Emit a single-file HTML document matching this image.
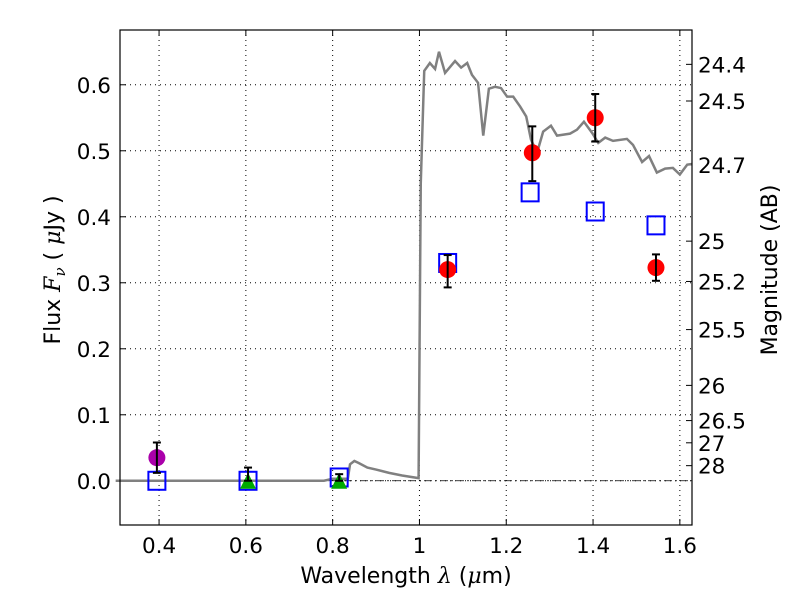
<!DOCTYPE html>
<html><head><meta charset="utf-8"><style>
body{margin:0;background:#fff}
svg{display:block;font-family:"DejaVu Sans","Liberation Sans",sans-serif}
</style></head><body>
<svg id="chart" width="800" height="600" viewBox="0 0 800 600"></svg>
<script>
const specWave=[0.30,0.78,0.80,0.835,0.84,0.85,0.86,0.88,0.90,0.93,0.96,0.998,1.003,1.011,1.024,1.036,1.045,1.059,1.082,1.096,1.110,1.121,1.135,1.147,1.160,1.174,1.188,1.202,1.216,1.232,1.246,1.257,1.271,1.285,1.303,1.317,1.347,1.363,1.379,1.398,1.412,1.428,1.446,1.478,1.492,1.513,1.529,1.547,1.566,1.584,1.600,1.617,1.628];
const specFlux=[0,0,0.003,0.003,0.025,0.03,0.027,0.02,0.017,0.012,0.008,0.004,0.45,0.621,0.633,0.624,0.65,0.618,0.636,0.626,0.633,0.615,0.603,0.523,0.594,0.597,0.595,0.582,0.582,0.567,0.552,0.517,0.497,0.529,0.538,0.523,0.526,0.532,0.544,0.527,0.512,0.520,0.515,0.518,0.509,0.483,0.492,0.467,0.473,0.474,0.464,0.479,0.48];
const modelWave=[0.395,0.605,0.815,1.065,1.255,1.405,1.545];
const modelFlux=[0,0,0.005,0.33,0.437,0.408,0.387];
const redWave=[1.065,1.26,1.405,1.545];
const redFlux=[0.32,0.497,0.55,0.323];
const redErrLo=[0.027,0.043,0.036,0.02];
const redErrHi=[0.022,0.04,0.036,0.02];
const purpleWave=[0.395];
const purpleFlux=[0.035];
const purpleErrLo=[0.023];
const purpleErrHi=[0.023];
const greenWave=[0.605,0.815];
const greenFlux=[0,0];
const greenErrHi=[0.02,0.01];
const xTicks=[0.4,0.6,0.8,1.0,1.2,1.4,1.6];
const xTickLabels=["0.4","0.6","0.8","1","1.2","1.4","1.6"];
const yTicks=[0,0.1,0.2,0.3,0.4,0.5,0.6];
const yTickLabels=["0.0","0.1","0.2","0.3","0.4","0.5","0.6"];
const magTicks=[24.4,24.5,24.7,25,25.2,25.5,26,26.5,27,28];

const L=120,R=692,T=30,B=525,X0=0.31,X1=1.628,Y0=-0.067,Y1=0.683;
const sx=v=>L+(v-X0)/(X1-X0)*(R-L);
const sy=v=>B-(v-Y0)/(Y1-Y0)*(B-T);
const svg=document.getElementById('chart');
const NS='http://www.w3.org/2000/svg';
function mk(tag,attrs,parent){const e=document.createElementNS(NS,tag);for(const k in attrs)e.setAttribute(k,attrs[k]);(parent||svg).appendChild(e);return e;}

xTicks.forEach((t,i)=>{
 const g=mk('line',{x1:sx(t),x2:sx(t),y1:T,y2:B,stroke:'#000','stroke-width':1,'stroke-dasharray':'1,4'});
 
 mk('line',{x1:sx(t),x2:sx(t),y1:B,y2:B-6,stroke:'#000'});mk('line',{x1:sx(t),x2:sx(t),y1:T,y2:T+6,stroke:'#000'});
 const tx=mk('text',{x:sx(t),y:B+28,'font-size':21.5,'text-anchor':'middle'});tx.textContent=xTickLabels[i];
 
});
yTicks.forEach((t,i)=>{
 const g=mk('line',{x1:L,x2:R,y1:sy(t),y2:sy(t),stroke:'#000','stroke-width':1,'stroke-dasharray':'1,4'});
 
 mk('line',{x1:L,x2:L+6,y1:sy(t),y2:sy(t),stroke:'#000'});
 const tx=mk('text',{x:L-9,y:sy(t)+8,'font-size':21.5,'text-anchor':'end'});tx.textContent=yTickLabels[i];
 
});
magTicks.forEach(m=>{
 const f=Math.pow(10,(23.9-m)/2.5);const y=sy(f);
 mk('line',{x1:R,x2:R-6,y1:y,y2:y,stroke:'#000'});
 const tx=mk('text',{x:R+6,y:y+8,'font-size':21.5});tx.textContent=String(m);
 
});
const z=mk('line',{x1:L,x2:R,y1:sy(0),y2:sy(0),stroke:'#000','stroke-width':0.8,'stroke-dasharray':'8,3,2,3'});

const sp=mk('polyline',{points:specWave.map((w,i)=>sx(w)+','+sy(specFlux[i])).join(' '),fill:'none',stroke:'#808080','stroke-width':2.5});

modelWave.forEach((w,i)=>{
 const r=mk('rect',{x:sx(w)-8.5,y:sy(modelFlux[i])-9,width:17,height:18,fill:'none',stroke:'#0000ff','stroke-width':2});
 
});
function err(x,lo,hi){mk('line',{x1:x,x2:x,y1:sy(lo),y2:sy(hi),stroke:'#000','stroke-width':2});
 [lo,hi].forEach(v=>mk('line',{x1:x-4,x2:x+4,y1:sy(v),y2:sy(v),stroke:'#000','stroke-width':2}));}
greenWave.forEach((w,i)=>{
 const x=sx(w),y=sy(greenFlux[i]);
 const p=mk('polygon',{points:`${x},${y-8} ${x-8},${y+8} ${x+8},${y+8}`,fill:'#00aa00'});
 
 err(x,greenFlux[i],greenFlux[i]+greenErrHi[i]);
});
purpleWave.forEach((w,i)=>{
 const c=mk('circle',{cx:sx(w),cy:sy(purpleFlux[i]),r:8.5,fill:'#aa00aa'});
 
 err(sx(w),purpleFlux[i]-purpleErrLo[i],purpleFlux[i]+purpleErrHi[i]);
});
redWave.forEach((w,i)=>{
 const c=mk('circle',{cx:sx(w),cy:sy(redFlux[i]),r:8.5,fill:'#ff0000'});
 
 err(sx(w),redFlux[i]-redErrLo[i],redFlux[i]+redErrHi[i]);
});
const fr=mk('rect',{x:L,y:T,width:R-L,height:B-T,fill:'none',stroke:'#000','stroke-width':1.2});

</script>
<svg style="position:absolute;left:0;top:0" width="800" height="600">
<text x="406" y="583" font-size="22" text-anchor="middle" font-family="DejaVu Sans, sans-serif">Wavelength  <tspan font-style="italic" font-family="DejaVu Serif, serif">λ</tspan> (<tspan font-style="italic" font-family="DejaVu Serif, serif">μ</tspan>m)</text>
<text transform="translate(60,270) rotate(-90)" font-size="22" text-anchor="middle" font-family="DejaVu Sans, sans-serif">Flux  <tspan font-style="italic" font-family="DejaVu Serif, serif">F</tspan><tspan font-style="italic" font-size="15" dy="5" font-family="DejaVu Serif, serif">ν</tspan><tspan dy="-5">  ( </tspan><tspan font-style="italic" font-family="DejaVu Serif, serif">μ</tspan>Jy )</text>
<text transform="translate(777,270) rotate(-90)" font-size="22" text-anchor="middle" font-family="DejaVu Sans, sans-serif">Magnitude (AB)</text>
</svg>
</body></html>
